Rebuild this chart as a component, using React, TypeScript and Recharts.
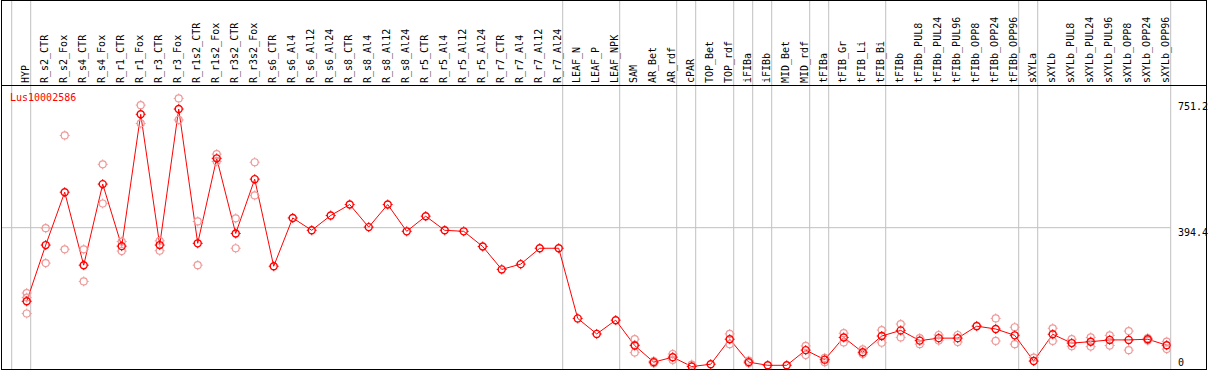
import React from 'react';
import { ComposedChart, Line, XAxis, YAxis, ReferenceLine } from 'recharts';

const categories = [
  'HYP', 'R_s2_CTR', 'R_s2_Fox', 'R_s4_CTR', 'R_s4_Fox', 'R_r1_CTR', 'R_r1_Fox', 'R_r3_CTR', 'R_r3_Fox',
  'R_r1s2_CTR', 'R_r1s2_Fox', 'R_r3s2_CTR', 'R_r3s2_Fox', 'R_s6_CTR', 'R_s6_Al4', 'R_s6_Al12', 'R_s6_Al24',
  'R_s8_CTR', 'R_s8_Al4', 'R_s8_Al12', 'R_s8_Al24', 'R_r5_CTR', 'R_r5_Al4', 'R_r5_Al12', 'R_r5_Al24',
  'R_r7_CTR', 'R_r7_Al4', 'R_r7_Al12', 'R_r7_Al24', 'LEAF_N', 'LEAF_P', 'LEAF_NPK', 'SAM', 'AR_Bet', 'AR_rdf',
  'cPAR', 'TOP_Bet', 'TOP_rdf', 'iFIBa', 'iFIBb', 'MID_Bet', 'MID_rdf', 'tFIBa', 'tFIB_Gr', 'tFIB_Li', 'tFIB_Bi',
  'tFIBb', 'tFIBb_PUL8', 'tFIBb_PUL24', 'tFIBb_PUL96', 'tFIBb_OPP8', 'tFIBb_OPP24', 'tFIBb_OPP96', 'sXYLa',
  'sXYLb', 'sXYLb_PUL8', 'sXYLb_PUL24', 'sXYLb_PUL96', 'sXYLb_OPP8', 'sXYLb_OPP24', 'sXYLb_OPP96',
];

const means = [
  185.5, 345, 495, 288, 518, 342, 716, 345, 731, 350, 591, 378, 532, 285, 422, 387, 429,
  460, 396, 460, 384, 427, 387, 384, 341, 276, 291, 336, 336, 137, 93, 132, 60, 13, 27,
  0.5, 7, 78, 13, 4, 4, 47, 20, 83, 41, 87, 103, 74, 81, 81, 115, 107, 89, 16,
  92, 67, 71, 76, 76, 78, 61,
];

const N = null;
const rep1 = [
  209, 393, 656, 333, 574, 355, 742, 357, 761, 412, 603, 421, 580, N, N, N, N,
  N, N, N, N, N, N, N, N, N, N, N, N, N, N, N, 78, 16, 36,
  6, N, 93, 17, N, N, 59, 25, 95, 49, 104, 121, 81, 90, 90, 116, 137, 112, 26,
  109, 78, 83, 89, 101, 81, 71,
];
const rep2 = [
  151, 294, 333, 242, 463, 328, 690, 329, 700, 288, 582, 336, 486, N, N, N, N,
  N, N, N, N, N, N, N, N, N, N, N, N, N, N, N, 40, 10, 19,
  N, N, 64, 10, N, N, 33, 13, 69, 36, 68, 83, 64, 74, 70, N, 73, 64, N,
  73, 58, 57, 60, 47, 74, 50,
];
const rep3: (number | null)[] = categories.map(() => null);
rep3[0] = 196;
rep3[32] = 62;

// group separators sit just after these columns
const separators = [-1, 0, 28, 31, 34, 35, 37, 38, 39, 41, 42, 45, 52, 53, 60];
const yTicks = [0, 394.4, 751.2];

const data = categories.map((name, i) => ({
  i,
  name,
  mean: means[i],
  r1: rep1[i],
  r2: rep2[i],
  r3: rep3[i],
}));

const FONT = '"DejaVu Sans Mono", monospace';

const Marker = ({ cx, cy, value, color, sw }: any) => {
  if (value == null || cx == null || cy == null) return null;
  const r = 3.5;
  return (
    <g>
      <circle cx={cx} cy={cy} r={r} fill="none" stroke={color} strokeWidth={sw} />
      <line x1={cx} y1={cy - r - 1.5} x2={cx} y2={cy - r} stroke={color} strokeWidth={1} />
      <line x1={cx} y1={cy + r} x2={cx} y2={cy + r + 1.5} stroke={color} strokeWidth={1} />
      <line x1={cx - r - 1.5} y1={cy} x2={cx - r} y2={cy} stroke={color} strokeWidth={1} />
      <line x1={cx + r} y1={cy} x2={cx + r + 1.5} y2={cy} stroke={color} strokeWidth={1} />
    </g>
  );
};

const RepDot = (props: any) => <Marker key={props.key} {...props} color="#ee9a9a" sw={1.2} />;
const MeanDot = (props: any) => <Marker key={props.key} {...props} color="#ff0000" sw={1.4} />;

const TopTick = ({ x, payload }: any) => {
  const bx = x + 2.5;
  return (
    <text
      x={bx}
      y={83}
      transform={`rotate(-90, ${bx}, 83)`}
      textAnchor="start"
      fontFamily={FONT}
      fontSize={10}
      fill="#000"
    >
      {categories[payload.value]}
    </text>
  );
};

const RightTick = ({ y, payload }: any) => (
  <text x={1178} y={payload.value === 0 ? 366 : y + 8.5} fontFamily={FONT} fontSize={10} fill="#000">
    {payload.value}
  </text>
);

export default function App() {
  return (
    <div style={{ position: 'absolute', left: 0, top: 0, width: 1209, height: 370, background: '#fff' }}>
      <ComposedChart width={1209} height={370} data={data} margin={{ top: 0, right: 0, left: 1, bottom: 1 }}>
        <XAxis
          dataKey="i"
          type="number"
          orientation="top"
          height={86}
          domain={[-1.353, 60.21]}
          allowDataOverflow
          ticks={categories.map((_, i) => i)}
          interval={0}
          tick={<TopTick />}
          axisLine={false}
          tickLine={false}
        />
        <YAxis
          orientation="right"
          type="number"
          width={38.3}
          domain={[-6.5, 796.3]}
          allowDataOverflow
          ticks={yTicks}
          interval={0}
          tick={<RightTick />}
          axisLine={false}
          tickLine={false}
        />
        <ReferenceLine y={394.4} stroke="#c0c0c0" strokeWidth={1} />
        {separators.map((s) => (
          <ReferenceLine
            key={s}
            segment={[{ x: s + 0.21, y: -6.5 }, { x: s + 0.21, y: 1045 }]}
            ifOverflow="visible"
            stroke="#c0c0c0"
            strokeWidth={1}
          />
        ))}
        <Line dataKey="r1" stroke="none" dot={RepDot} activeDot={false} isAnimationActive={false} legendType="none" />
        <Line dataKey="r2" stroke="none" dot={RepDot} activeDot={false} isAnimationActive={false} legendType="none" />
        <Line dataKey="r3" stroke="none" dot={RepDot} activeDot={false} isAnimationActive={false} legendType="none" />
        <Line
          dataKey="mean"
          type="linear"
          stroke="#ff0000"
          strokeWidth={1}
          dot={MeanDot}
          activeDot={false}
          isAnimationActive={false}
        />
      </ComposedChart>
      <div
        style={{
          position: 'absolute',
          left: 1,
          top: 0,
          width: 1204,
          height: 368,
          border: '1px solid #000',
          pointerEvents: 'none',
        }}
      />
      <div
        style={{
          position: 'absolute',
          left: 1,
          top: 85,
          width: 1206,
          height: 1,
          background: '#000',
          pointerEvents: 'none',
        }}
      />
      <div
        style={{
          position: 'absolute',
          left: 10,
          top: 92,
          fontFamily: FONT,
          fontSize: 10,
          lineHeight: '12px',
          color: '#ff0000',
          whiteSpace: 'nowrap',
        }}
      >
        Lus10002586
      </div>
    </div>
  );
}
